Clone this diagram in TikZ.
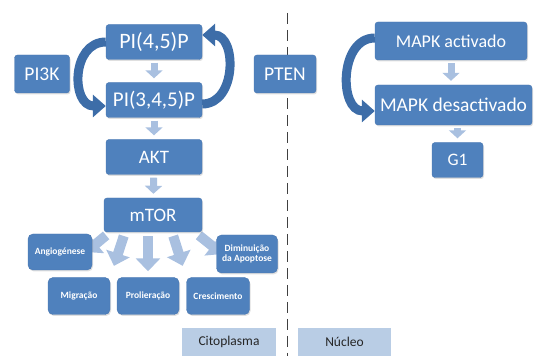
\documentclass[tikz,border=0pt]{standalone}
\usepackage{fontspec}
\setmainfont{Carlito}
\usepackage{tikz}
\usetikzlibrary{positioning,arrows.meta,calc,shadows}
\definecolor{BoxBlue}{HTML}{4F81BD}
\definecolor{BoxEdge}{HTML}{4876B0}
\definecolor{FlowBlue}{HTML}{A9C0E0}
\definecolor{CycleBlue}{HTML}{3D6DA8}
\definecolor{RegionBlue}{HTML}{B9CDE5}
\pgfdeclarelayer{bg}
\pgfsetlayers{bg,main}
\newcommand{\fs}[1]{\fontsize{#1}{#1}\selectfont}

\begin{document}
\begin{tikzpicture}[x=1pt, y=1pt,
  box/.style={draw=BoxEdge, fill=BoxBlue, rounded corners=3pt, text=white, inner sep=0pt,
    drop shadow={opacity=0.25, shadow xshift=1pt, shadow yshift=-1.5pt}},
  smallbox/.style={box, rounded corners=5pt, align=center, font=\bfseries\fs{9.5}},
  region/.style={fill=RegionBlue, inner sep=0pt, text=black!85, font=\fs{13.5}},
  flow/.style={FlowBlue, line width=7pt, -{Triangle[width=17pt,length=8pt]}, shorten <=3pt, shorten >=4pt},
  bigflow/.style={FlowBlue, line width=10pt, -{Triangle[width=24pt,length=13pt]}},
  cyclearrow/.style={CycleBlue, line width=9pt, -{Triangle[width=22pt,length=13pt]}},
  border/.style={black!75, line width=0.8pt, dash pattern=on 11pt off 6pt}]
\useasboundingbox (0,0) rectangle (536,356);

% left column
\node[box, minimum width=96, minimum height=35, font=\fs{22}] (pi45) at (154,314) {PI(4,5)P};
\node[box, minimum width=96, minimum height=35, font=\fs{21}] (pi345) at (154,256) {PI(3,4,5)P};
\node[box, minimum width=55, minimum height=38, font=\fs{19.5}] (pi3k) at (42,282) {PI3K};
\node[box, minimum width=96, minimum height=35, font=\fs{19}] (akt) at (154,199) {AKT};
\node[box, minimum width=98, minimum height=34, font=\fs{19}] (mtor) at (153,141) {mTOR};

% effects of mTOR
\node[smallbox, minimum width=64, minimum height=36] (angio) at (60,104) {Angiogénese};
\node[smallbox, minimum width=62, minimum height=37] (migr) at (79,60) {Migração};
\node[smallbox, minimum width=62, minimum height=37] (prol) at (148,60) {Prolieração};
\node[smallbox, minimum width=63, minimum height=37] (cresc) at (218,60) {Crescimento};
\node[smallbox, minimum width=61, minimum height=38] (apop) at (247,102) {Diminuição\\da Apoptose};

% right side
\node[box, minimum width=62, minimum height=38, font=\fs{19.5}] (pten) at (285,282) {PTEN};
\node[box, minimum width=152, minimum height=38, font=\fs{18}] (mapka) at (451,315) {MAPK activado};
\node[box, minimum width=157, minimum height=40, font=\fs{19.5}] (mapkd) at (453.5,251) {MAPK desactivado};
\node[box, minimum width=51, minimum height=35, font=\fs{17.5}] (g1) at (457.5,196) {G1};

% compartments
\node[region, minimum width=94, minimum height=28] (cito) at (229,14) {Citoplasma};
\node[region, minimum width=93, minimum height=28] (nucleo) at (344.5,14) {Núcleo};
\coordinate (top) at (287,343);
\coordinate (bottom) at (287,0);

\begin{pgfonlayer}{bg}
\draw[border] (top) -- (bottom);
\draw[flow] (pi45) -- (pi345);
\draw[flow] (pi345) -- (akt);
\draw[flow] (akt) -- (mtor);
\draw[flow] (mapka.south -| 451,0) -- (mapkd.north -| 451,0);
\draw[flow] (mapkd.south -| g1.north) -- (g1.north);
\draw[bigflow, shorten <=4pt, shorten >=6pt] (prol.north |- mtor.south) -- (prol.north);
\draw[bigflow, shorten <=4pt, shorten >=12pt] ([xshift=-28pt]mtor.south) -- (migr.north east);
\draw[bigflow, shorten <=4pt, shorten >=12pt] ([xshift=19pt]mtor.south) -- (cresc.north west);
\draw[bigflow, shorten <=5pt] ([xshift=-43pt]mtor.south) -- ([xshift=-6pt]angio.east);
\draw[bigflow, shorten <=5pt] ([xshift=42pt]mtor.south) -- ([xshift=6pt]apop.west);
\end{pgfonlayer}

% cycles
\draw[cyclearrow] (pi45.west) .. controls (71,314) and (71,250) .. ([yshift=-6pt]pi345.west);
\draw[cyclearrow] ([yshift=-4pt]pi345.east) .. controls (237,252) and (237,321) .. ([yshift=7pt]pi45.east);
\draw[cyclearrow] ([yshift=3pt]mapka.west) .. controls (339,318) and (339,245) .. ([yshift=-6pt]mapkd.west);
\end{tikzpicture}
\end{document}
